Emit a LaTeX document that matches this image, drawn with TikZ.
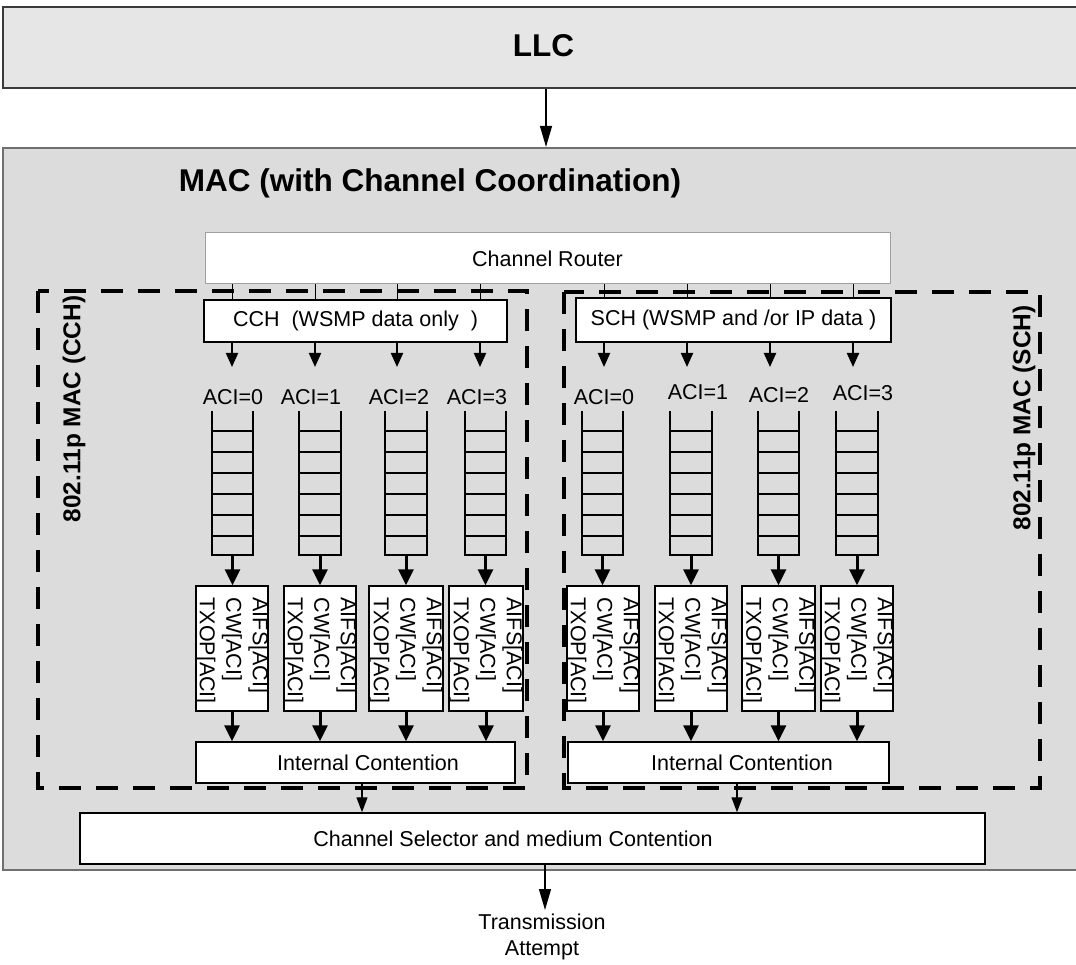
\documentclass[tikz,border=0pt]{standalone}
\usepackage{fontspec}
\setmainfont{Liberation Sans}
\usetikzlibrary{arrows.meta}
\definecolor{llcfill}{HTML}{E6E6E6}
\definecolor{macfill}{HTML}{DCDCDC}
\definecolor{llcline}{HTML}{3A3A3A}
\definecolor{macline}{HTML}{707070}
\definecolor{routerline}{HTML}{A0A0A0}
\begin{document}
\begin{tikzpicture}[x=1pt,y=-1pt,
  txt/.style={font=\fontsize{21.5}{26.5}\selectfont, inner sep=0pt},
  boldlbl/.style={font=\bfseries\fontsize{24.4}{29}\selectfont, inner sep=0pt},
  wbox/.style={draw=black, line width=1.5pt, fill=white, inner sep=0pt},
  abox/.style={draw=black, line width=1.3pt, fill=white, inner sep=0pt, minimum height=125pt},
  qnode/.style={inner sep=0pt, minimum width=41pt, minimum height=143pt},
  qline/.style={line width=2pt, line cap=rect},
  dashbox/.style={draw=black, line width=4.5pt, dash pattern=on 22pt off 15pt},
  thinline/.style={line width=1pt},
  arr/.style={-{Triangle[length=14pt,width=12pt]}, line width=2pt},
  thickarr/.style={-{Triangle[length=16pt,width=15pt]}, line width=3pt},
  longarr/.style={-{Triangle[length=21pt,width=12pt]}, line width=1.3pt},
  smallarr/.style={-{Triangle[length=15pt,width=11pt]}, line width=1.3pt}
]
\useasboundingbox (0,0) rectangle (1076,965);

% LLC and MAC
\node[draw=llcline, line width=1.5pt, fill=llcfill, minimum width=1077pt, minimum height=81pt, inner sep=0pt] (llc) at (541.5,47.5) {};
\node[font=\bfseries\fontsize{31.5}{36}\selectfont, inner sep=0pt] (llct) at (543.5,45.5) {LLC};
\node[draw=macline, line width=2.2pt, fill=macfill, minimum width=1077pt, minimum height=722pt, inner sep=0pt] (mac) at (541.5,509) {};
\node[font=\bfseries\fontsize{31.5}{36}\selectfont, inner sep=0pt] (mactitle) at (430,183) {MAC (with Channel Coordination)};
\coordinate (xllc) at (546,0);
\draw[longarr] (llc.south -| xllc) -- (mac.north -| xllc);

% Channel router
\node[draw=routerline, line width=1pt, fill=white, minimum width=685pt, minimum height=51pt, inner sep=0pt, txt] (router) at (547.5,258.5) {Channel Router};

% CCH / SCH boxes
\node[wbox, minimum width=303pt, minimum height=42pt, txt] (cch) at (355.5,321) {CCH\ \ (WSMP data only\ \ )};
\node[wbox, minimum width=315pt, minimum height=44pt, txt] (sch) at (733.5,320) {SCH (WSMP and /or IP data )};

% router -> CCH/SCH lines and arrows to ACI labels
\foreach \n/\x in {c0/232, c1/315, c2/397, c3/480} {
  \coordinate (e\n) at (\x,367);
  \draw[thinline] (router.south -| e\n) -- (cch.north -| e\n);
  \draw[arr] (cch.south -| e\n) -- (e\n);
}
\foreach \n/\x in {s0/604, s1/687, s2/770, s3/853} {
  \coordinate (e\n) at (\x,367);
  \draw[thinline] (router.south -| e\n) -- (sch.north -| e\n);
  \draw[arr] (sch.south -| e\n) -- (e\n);
}

% ACI labels
\foreach \n/\x/\y/\t in {c0/233/397/0, c1/311/397/1, c2/399/397/2, c3/477/397/3,
                         s0/604/397/0, s1/698/392/1, s2/779/395/2, s3/863/393/3} {
  \node[txt] (l\n) at (\x,\y) {ACI=\t};
}

% queues
\foreach \n/\x in {c0/232.5, c1/320, c2/406, c3/485.5, s0/602.5, s1/691, s2/778.5, s3/857} {
  \node[qnode] (q\n) at (\x,483.5) {};
  \draw[qline] (q\n.north west) -- (q\n.south west) -- (q\n.south east) -- (q\n.north east);
  \foreach \d in {19,40,61,82,103,124} {
    \draw[line width=2pt] ([yshift=-\d pt]q\n.north west) -- ([yshift=-\d pt]q\n.north east);
  }
}

% AIFS boxes
\foreach \n/\x/\w in {c0/232/72, c1/320/72, c2/406/74, c3/486/74, s0/603/72, s1/691/72, s2/778.5/73, s3/857/72} {
  \node[abox, minimum width=\w pt] (a\n) at (\x,648.5) {};
  \node[txt, rotate=-90, anchor=west, align=left] (t\n) at ([yshift=-12pt]a\n.north) {AIFS[ACI]\\CW[ACI]\\TXOP[ACI]};
  \draw[thickarr] (q\n.south) -- (q\n.south |- a\n.north);
}

% Internal contention
\node[wbox, minimum width=319pt, minimum height=41pt] (icc) at (355.5,762.5) {};
\node[txt] (icct) at (368,762.5) {Internal Contention};
\node[wbox, minimum width=321pt, minimum height=41pt] (ics) at (728.5,762.5) {};
\node[txt] (icst) at (742,762.5) {Internal Contention};
\foreach \n in {c0,c1,c2,c3} { \draw[thickarr] (a\n.south) -- (a\n.south |- icc.north); }
\foreach \n in {s0,s1,s2,s3} { \draw[thickarr] (a\n.south) -- (a\n.south |- ics.north); }

% dashed MAC regions
\draw[dashbox] (38,291) rectangle (527,788);
\draw[dashbox] (564,292) rectangle (1040,788);
\node[boldlbl, rotate=90] (cchlbl) at (74,409) {802.11p MAC (CCH)};
\node[boldlbl, rotate=90] (schlbl) at (1024,418) {802.11p MAC (SCH)};

% channel selector
\node[wbox, minimum width=905pt, minimum height=51pt] (sel) at (532.5,838.5) {};
\node[txt] (selt) at (513,838.5) {Channel Selector and medium Contention};
\coordinate (xc) at (362,0);
\coordinate (xs) at (737,0);
\draw[smallarr] (icc.south -| xc) -- (sel.north -| xc);
\draw[smallarr] (ics.south -| xs) -- (sel.north -| xs);

% transmission attempt
\node[txt, align=center] (tx) at (542,937) {Transmission\\Attempt};
\coordinate (xt) at (545,0);
\coordinate (tip) at (545,910);
\draw[longarr] (sel.south -| xt) -- (tip);
\end{tikzpicture}
\end{document}
